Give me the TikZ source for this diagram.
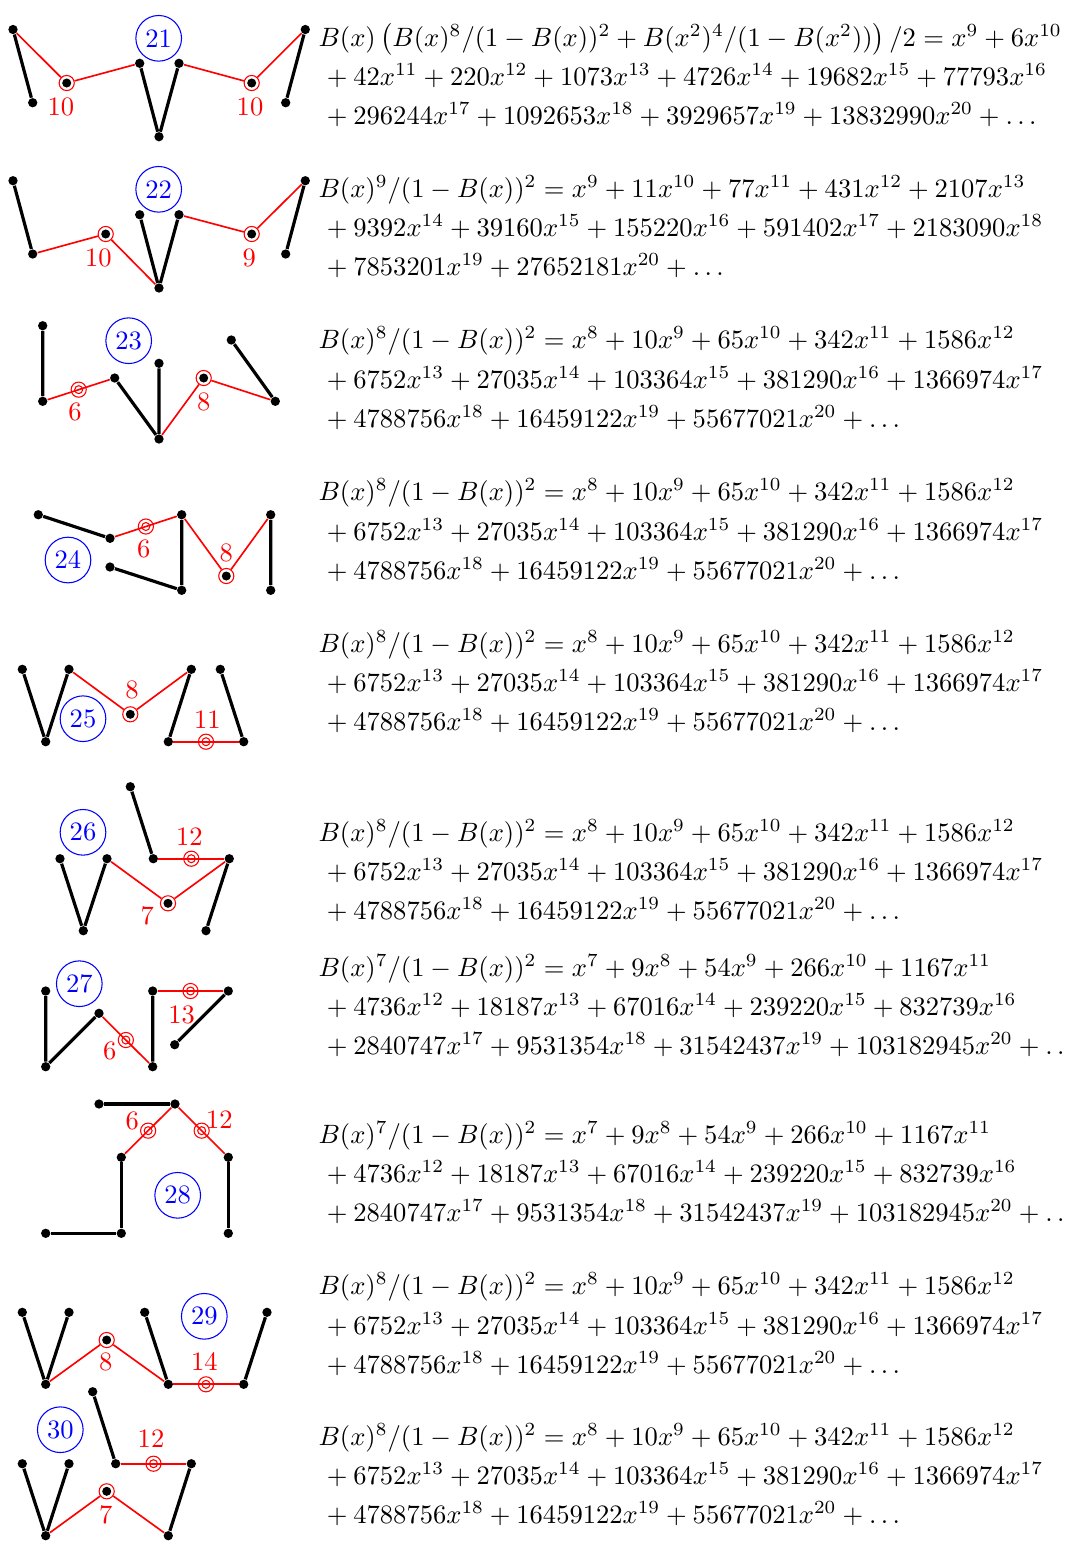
\documentclass[tikz,border=0pt]{standalone}
\tikzset{
  vtx/.style={circle,fill=black,inner sep=0pt,minimum size=3.5pt},
  ringdot/.style={circle,draw=red,line width=0.4pt,inner sep=0pt,minimum size=5.7pt,
    path picture={\fill[black] (path picture bounding box.center) circle (1.7pt);}},
  dblring/.style={circle,draw=red,line width=0.4pt,inner sep=0pt,minimum size=5.7pt,
    path picture={\draw[red,line width=0.4pt] (path picture bounding box.center) circle (1.5pt);}},
  thk/.style={black,line width=1.2pt},
  rd/.style={red,line width=0.62pt},
  num/.style={circle,draw=blue,text=blue,line width=0.4pt,inner sep=0pt,minimum size=17.2pt},
  lab/.style={text=red,inner sep=0pt},
  eq/.style={anchor=base west,inner sep=0pt,outer sep=0pt}
}
\newcommand{\EgtA}{B(x)^8/(1-B(x))^2=x^8+10x^9+65x^{10}+342x^{11}+1586x^{12}}
\newcommand{\EgtB}{{}+6752x^{13}+27035x^{14}+103364x^{15}+381290x^{16}+1366974x^{17}}
\newcommand{\EgtC}{{}+4788756x^{18}+16459122x^{19}+55677021x^{20}+\ldots}
\newcommand{\SvnA}{B(x)^7/(1-B(x))^2=x^7+9x^8+54x^9+266x^{10}+1167x^{11}}
\newcommand{\SvnB}{{}+4736x^{12}+18187x^{13}+67016x^{14}+239220x^{15}+832739x^{16}}
\newcommand{\SvnC}{{}+2840747x^{17}+9531354x^{18}+31542437x^{19}+103182945x^{20}+\ldots}
\begin{document}
\begin{tikzpicture}[x=0.3767pt,y=-0.3767pt]
\clip (0,0) rectangle (1066,1541);
% 21
\node[vtx] (a1) at (13,29.5) {};
\node[vtx] (a2) at (32.7,102.7) {};
\node[ringdot] (a3) at (66.7,83) {};
\node[vtx] (a4) at (139.7,63.3) {};
\node[vtx] (a5) at (159,136.7) {};
\node[vtx] (a6) at (179,63.3) {};
\node[ringdot] (a7) at (251.7,83) {};
\node[vtx] (a8) at (305.3,29.5) {};
\node[vtx] (a9) at (285.7,102.7) {};
\draw[thk] (a2)--(a1) (a4)--(a5)--(a6) (a8)--(a9);
\draw[rd] (a1)--(a3) (a3)--(a4) (a6)--(a7) (a7)--(a8);
\node[num] (an) at (158.7,38.3) {21};
\node[lab] (al1) at (61,106.5) {10};
\node[lab] (al2) at (250,106.5) {10};
\node[eq] (ae1) at (318.5,46) {$B(x)\left(B(x)^8/(1-B(x))^2+B(x^2)^4/(1-B(x^2))\right)/2=x^9+6x^{10}$};
\node[eq] (ae2) at (321,85) {${}+42x^{11}+220x^{12}+1073x^{13}+4726x^{14}+19682x^{15}+77793x^{16}$};
\node[eq] (ae3) at (321,124) {${}+296244x^{17}+1092653x^{18}+3929657x^{19}+13832990x^{20}+\ldots$};
% 22
\node[vtx] (b1) at (13,180.7) {};
\node[vtx] (b2) at (32.7,254) {};
\node[ringdot] (b3) at (105.7,234) {};
\node[vtx] (b4) at (159,288) {};
\node[vtx] (b5) at (139.7,214.7) {};
\node[vtx] (b6) at (179,214.7) {};
\node[ringdot] (b7) at (251.7,234) {};
\node[vtx] (b8) at (305.3,180.7) {};
\node[vtx] (b9) at (285.7,254) {};
\draw[thk] (b1)--(b2) (b5)--(b4)--(b6) (b8)--(b9);
\draw[rd] (b2)--(b3) (b3)--(b4) (b6)--(b7) (b7)--(b8);
\node[num] (bn) at (158.7,189.3) {22};
\node[lab] (bl1) at (98.3,258) {10};
\node[lab] (bl2) at (249.3,258) {9};
\node[eq] (be1) at (318.5,197) {$B(x)^9/(1-B(x))^2=x^9+11x^{10}+77x^{11}+431x^{12}+2107x^{13}$};
\node[eq] (be2) at (321,236) {${}+9392x^{14}+39160x^{15}+155220x^{16}+591402x^{17}+2183090x^{18}$};
\node[eq] (be3) at (321,275) {${}+7853201x^{19}+27652181x^{20}+\ldots$};
% 23
\node[vtx] (c1) at (42.7,325.7) {};
\node[vtx] (c2) at (42.7,401.3) {};
\node[vtx] (c4) at (114.7,378) {};
\node[vtx] (c5) at (159,439) {};
\node[vtx] (c6) at (159,363.3) {};
\node[ringdot] (c7) at (203.7,378) {};
\node[vtx] (c8) at (275.3,401.3) {};
\node[vtx] (c9) at (231.3,340) {};
\draw[thk] (c1)--(c2) (c4)--(c5)--(c6) (c8)--(c9);
\draw[rd] (c2)-- node[dblring] (c3) {} (c4);
\draw[rd] (c5)--(c7) (c7)--(c8);
\node[num] (cn) at (128.7,340.7) {23};
\node[lab] (cl1) at (75,412.3) {6};
\node[lab] (cl2) at (203.7,402.3) {8};
\node[eq] (ce1) at (318.5,348.5) {$\EgtA$};
\node[eq] (ce2) at (321,388) {$\EgtB$};
\node[eq] (ce3) at (321,427) {$\EgtC$};
% 24
\node[vtx] (d1) at (38.3,514.7) {};
\node[vtx] (d2) at (110,538.3) {};
\node[vtx] (d4) at (181.7,514.7) {};
\node[vtx] (d5) at (181.7,590.3) {};
\node[vtx] (d6) at (110,567) {};
\node[ringdot] (d7) at (226.3,576) {};
\node[vtx] (d8) at (270.7,514.7) {};
\node[vtx] (d9) at (270.7,590.3) {};
\draw[thk] (d1)--(d2) (d4)--(d5)--(d6) (d8)--(d9);
\draw[rd] (d2)-- node[dblring] (d3) {} (d4);
\draw[rd] (d4)--(d7) (d7)--(d8);
\node[num] (dn) at (68,560) {24};
\node[lab] (dl1) at (143.7,549.3) {6};
\node[lab] (dl2) at (226.3,552.7) {8};
\node[eq] (de1) at (318.5,500.5) {$\EgtA$};
\node[eq] (de2) at (321,540) {$\EgtB$};
\node[eq] (de3) at (321,579) {$\EgtC$};
% 25
\node[vtx] (e1) at (22.3,669.3) {};
\node[vtx] (e2) at (45.7,741.7) {};
\node[vtx] (e3) at (69,669.3) {};
\node[ringdot] (e4) at (130.3,714.3) {};
\node[vtx] (e5) at (191.3,669.3) {};
\node[vtx] (e6) at (168.3,741.7) {};
\node[vtx] (e8) at (243.7,741.7) {};
\node[vtx] (e9) at (220.3,669.3) {};
\draw[thk] (e1)--(e2)--(e3) (e5)--(e6) (e8)--(e9);
\draw[rd] (e3)--(e4) (e4)--(e5);
\draw[rd] (e6)-- node[dblring] (e7) {} (e8);
\node[num] (en) at (83,718.7) {25};
\node[lab] (el1) at (132,690) {8};
\node[lab] (el2) at (207.3,719.3) {11};
\node[eq] (ee1) at (318.5,652) {$\EgtA$};
\node[eq] (ee2) at (321,691) {$\EgtB$};
\node[eq] (ee3) at (321,730) {$\EgtC$};
% 26
\node[vtx] (f1) at (130.3,786.7) {};
\node[vtx] (f2) at (153.3,858.7) {};
\node[vtx] (f4) at (229.3,858.7) {};
\node[vtx] (f5) at (206,930.7) {};
\node[ringdot] (f6) at (168,903.3) {};
\node[vtx] (f7) at (107,858.7) {};
\node[vtx] (f8) at (83.3,930.7) {};
\node[vtx] (f9) at (60,858.7) {};
\draw[thk] (f1)--(f2) (f4)--(f5) (f7)--(f8)--(f9);
\draw[rd] (f2)-- node[dblring] (f3) {} (f4);
\draw[rd] (f4)--(f6) (f6)--(f7);
\node[num] (fn) at (83,832.3) {26};
\node[lab] (fl1) at (189.3,836.7) {12};
\node[lab] (fl2) at (147.3,915.7) {7};
\node[eq] (fe1) at (318.5,841) {$\EgtA$};
\node[eq] (fe2) at (321,880) {$\EgtB$};
\node[eq] (fe3) at (321,919) {$\EgtC$};
% 27
\node[vtx] (g1) at (45.7,991) {};
\node[vtx] (g2) at (45.7,1066.7) {};
\node[vtx] (g3) at (99,1013.3) {};
\node[vtx] (g5) at (152.7,1066.7) {};
\node[vtx] (g6) at (152.7,991) {};
\node[vtx] (g8) at (228.3,991) {};
\node[vtx] (g9) at (174.7,1044.7) {};
\draw[thk] (g1)--(g2)--(g3) (g5)--(g6) (g8)--(g9);
\draw[rd] (g3)-- node[dblring] (g4) {} (g5);
\draw[rd] (g6)-- node[dblring] (g7) {} (g8);
\node[num] (gn) at (79.3,983.7) {27};
\node[lab] (gl1) at (109.7,1051.3) {6};
\node[lab] (gl2) at (181.7,1015) {13};
\node[eq] (ge1) at (318.5,976) {$\SvnA$};
\node[eq] (ge2) at (321,1015) {$\SvnB$};
\node[eq] (ge3) at (321,1054) {$\SvnC$};
% 28
\node[vtx] (h1) at (99,1104) {};
\node[vtx] (h2) at (175,1104) {};
\node[vtx] (h4) at (121.3,1157.3) {};
\node[vtx] (h5) at (121.3,1233.3) {};
\node[vtx] (h6) at (45.7,1233.3) {};
\node[vtx] (h8) at (228.3,1157.3) {};
\node[vtx] (h9) at (228.3,1233.3) {};
\draw[thk] (h1)--(h2) (h4)--(h5)--(h6) (h8)--(h9);
\draw[rd] (h2)-- node[dblring] (h3) {} (h4);
\draw[rd] (h2)-- node[dblring] (h7) {} (h8);
\node[num] (hn) at (177.7,1195.3) {28};
\node[lab] (hl1) at (132.3,1120.7) {6};
\node[lab] (hl2) at (219.3,1120) {12};
\node[eq] (he1) at (318.5,1143) {$\SvnA$};
\node[eq] (he2) at (321,1182.5) {$\SvnB$};
\node[eq] (he3) at (321,1221.5) {$\SvnC$};
% 29
\node[vtx] (i1) at (22.3,1312.3) {};
\node[vtx] (i2) at (45.7,1384.3) {};
\node[vtx] (i3) at (69,1312.3) {};
\node[ringdot] (i4) at (106.7,1340) {};
\node[vtx] (i5) at (168.3,1384.3) {};
\node[vtx] (i6) at (144.7,1312.3) {};
\node[vtx] (i8) at (243.7,1384.3) {};
\node[vtx] (i9) at (267,1312.3) {};
\draw[thk] (i1)--(i2)--(i3) (i6)--(i5) (i8)--(i9);
\draw[rd] (i2)--(i4) (i4)--(i5);
\draw[rd] (i5)-- node[dblring] (i7) {} (i8);
\node[num] (in) at (204.3,1316.3) {29};
\node[lab] (il1) at (105.7,1361.7) {8};
\node[lab] (il2) at (204.3,1361) {14};
\node[eq] (ie1) at (318.5,1294.5) {$\EgtA$};
\node[eq] (ie2) at (321,1334) {$\EgtB$};
\node[eq] (ie3) at (321,1373) {$\EgtC$};
% 30
\node[vtx] (j1) at (22.3,1463.7) {};
\node[vtx] (j2) at (45.7,1535.7) {};
\node[vtx] (j3) at (69,1463.7) {};
\node[ringdot] (j4) at (106.7,1491.3) {};
\node[vtx] (j5) at (168.3,1535.7) {};
\node[vtx] (j6) at (191.3,1463.7) {};
\node[vtx] (j8) at (115.7,1463.7) {};
\node[vtx] (j9) at (92.7,1391.7) {};
\draw[thk] (j1)--(j2)--(j3) (j5)--(j6) (j8)--(j9);
\draw[rd] (j2)--(j4) (j4)--(j5);
\draw[rd] (j6)-- node[dblring] (j7) {} (j8);
\node[num] (jn) at (60.3,1429.7) {30};
\node[lab] (jl1) at (151,1438.3) {12};
\node[lab] (jl2) at (105.7,1514.3) {7};
\node[eq] (je1) at (318.5,1445) {$\EgtA$};
\node[eq] (je2) at (321,1484.5) {$\EgtB$};
\node[eq] (je3) at (321,1523.5) {$\EgtC$};
\end{tikzpicture}
\end{document}
